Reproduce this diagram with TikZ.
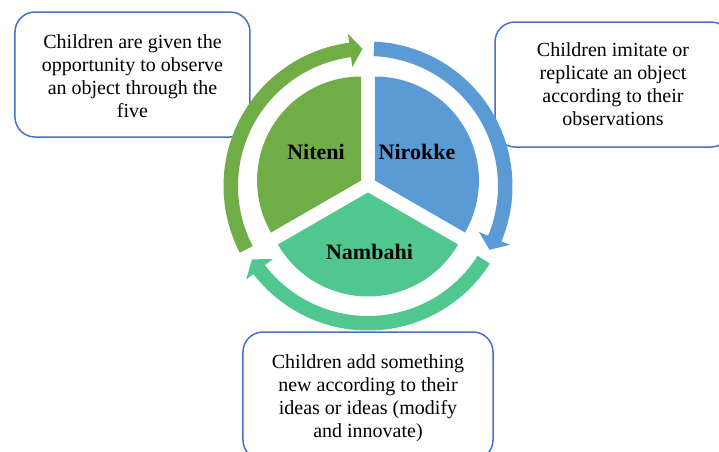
\documentclass[tikz,border=0pt]{standalone}
\usepackage{fontspec}
\setmainfont{Liberation Serif}
\definecolor{cgreen}{HTML}{70AD47}
\definecolor{cblue}{HTML}{5B9BD5}
\definecolor{cteal}{HTML}{4FC78F}
\definecolor{cborder}{HTML}{4472C4}
\def\Ro{144.5pt}
\def\Ri{130pt}
\def\Rm{137.25pt}
\def\Rp{104pt}
\newcommand\ringarrow[4]{%
  \fill[#1] (#2:\Ro) arc[start angle=#2, end angle=#3, radius=\Ro]
    -- (#3:{\Ro+9pt}) -- (#4:\Rm) -- (#3:{\Ri-10pt}) -- (#3:\Ri)
    arc[start angle=#3, end angle=#2, radius=\Ri] -- cycle;}
\tikzset{
  infobox/.style={draw=cborder, line width=1.5pt, fill=white, rounded corners=20pt,
    align=center, font=\fontsize{20}{23}\selectfont, inner sep=0pt},
  seglabel/.style={font=\fontsize{22}{26}\selectfont\bfseries, text=black},
}
\begin{document}
\begin{tikzpicture}[x=1pt,y=1pt]
\useasboundingbox (-368,186) rectangle (351,-265);
\clip (-368,186) rectangle (351,-265);
\fill[white] (-368,186) rectangle (351,-265);
% boxes
\node[infobox, minimum width=235pt, minimum height=125pt] (b1) at (-235.5,111.5) {};
\node[align=center, font=\fontsize{20}{23}\selectfont, inner sep=0pt] (t1) at (-235.5,109.5)
  {Children are given the\\opportunity to observe\\an object through the\\five};
\node[infobox, minimum width=236pt, minimum height=125pt] (b2) at (245,101.5)
  {Children imitate or\\replicate an object\\according to their\\observations};
\node[infobox, minimum width=250pt, minimum height=128pt] (b3) at (0,-210) {};
\node[align=center, font=\fontsize{20}{23}\selectfont, inner sep=0pt] (t3) at (0,-212)
  {Children add something\\new according to their\\ideas or ideas (modify\\and innovate)};
% pie sectors
\begin{scope}[shift={(0,1.5)}]
  \fill[cgreen, shift={(150:8)}] (0,0) -- (90:\Rp) arc[start angle=90, end angle=210, radius=\Rp] -- cycle;
  \fill[cblue, shift={(30:8)}] (0,0) -- (-30:\Rp) arc[start angle=-30, end angle=90, radius=\Rp] -- cycle;
  \fill[cteal, shift={(270:8)}] (0,0) -- (210:\Rp) arc[start angle=210, end angle=330, radius=\Rp] -- cycle;
\end{scope}
% ring arrows
\ringarrow{cgreen}{207.5}{97.5}{92.3}
\ringarrow{cblue}{87.5}{-22.5}{-27.7}
\ringarrow{cteal}{-32.5}{-142.5}{-147.7}
% labels
\node[seglabel] (niteni) at (-52,34) {Niteni};
\node[seglabel] (nirokke) at (49,34) {Nirokke};
\node[seglabel] (nambahi) at (1.5,-66) {Nambahi};
\end{tikzpicture}
\end{document}
